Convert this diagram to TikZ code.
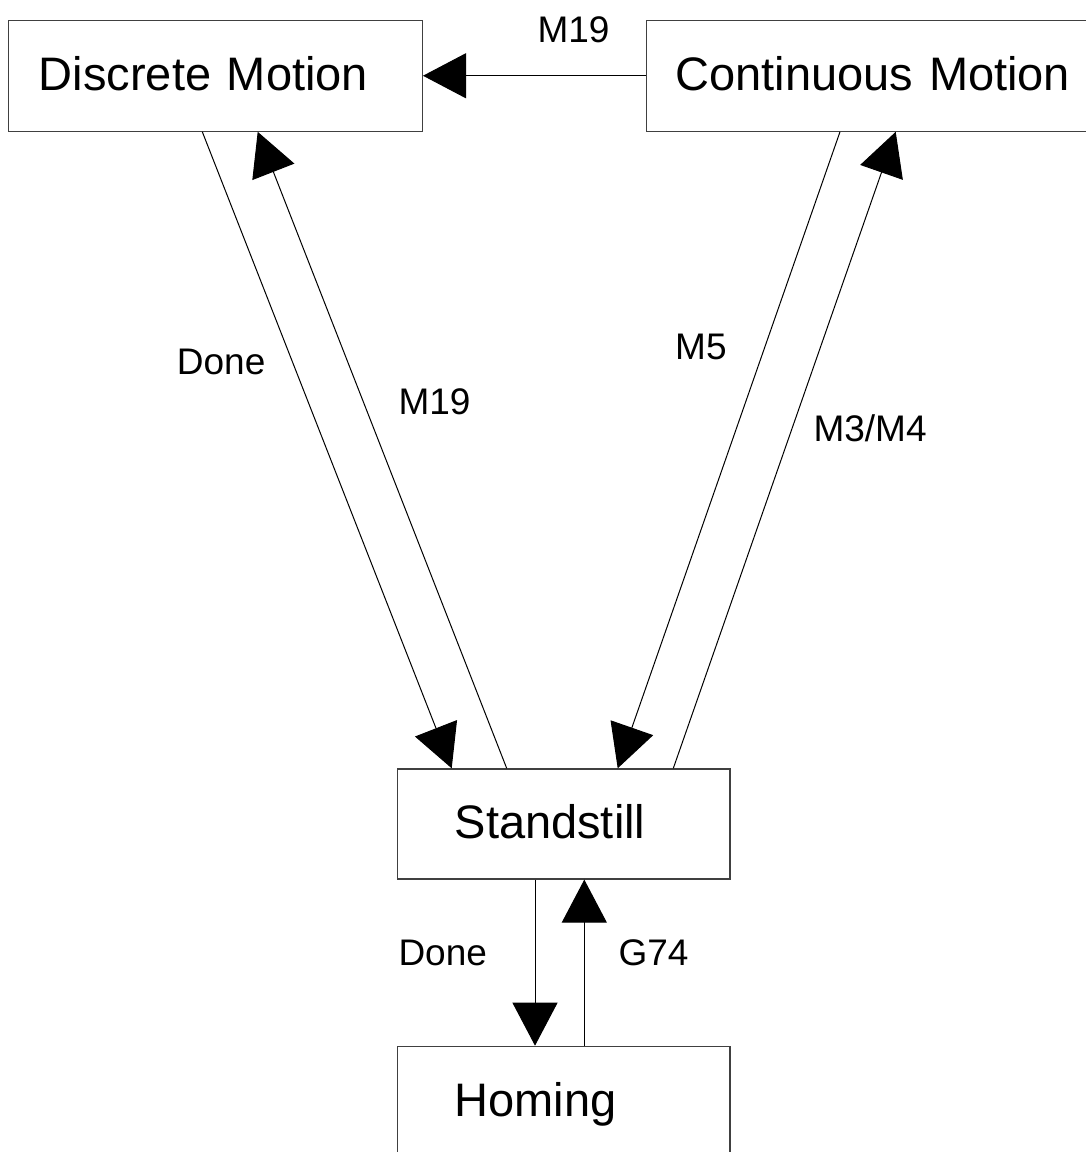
\documentclass[tikz,border=0pt]{standalone}
\usepackage{fontspec}
\setmainfont{Liberation Sans}
\usetikzlibrary{arrows.meta,calc}
\begin{document}
\begin{tikzpicture}[x=1pt,y=-1pt,
  statebox/.style={draw=black!75, line width=1.3pt, anchor=north west, align=left,
    font=\fontsize{47pt}{56pt}\selectfont, text height=33pt, text depth=3pt, inner ysep=0pt},
  lbl/.style={anchor=base west, inner sep=0pt, font=\fontsize{37pt}{44pt}\selectfont},
  arr/.style={line width=1pt, -{Triangle[length=43pt,width=45pt]}}]
\useasboundingbox (0,0) rectangle (1086,1152);
\clip (0,0) rectangle (1086,1152);
% states
\node[statebox, minimum height=110.8pt, text width=352.8pt, inner xsep=30.6pt] (d) at (7.7,19.7) {Discrete Motion};
\node[statebox, minimum height=110.8pt, text width=430pt, inner xsep=29pt] (c) at (646,19.7) {Continuous Motion};
\node[statebox, minimum height=110pt, text width=218pt, inner xsep=57.3pt] (s) at (396.7,768.3) {Standstill};
\node[statebox, minimum height=110pt, text width=218pt, inner xsep=57.3pt] (h) at (396.7,1045.7) {Homing};
% transitions
\draw[arr] (c.west) -- (d.east);
\draw[arr] ($(d.south west)+(194.6,0)$) -- ($(s.north west)+(55,0)$);
\draw[arr] ($(s.north west)+(110,0)$) -- ($(d.south west)+(250,0)$);
\draw[arr] ($(c.south west)+(194,0)$) -- ($(s.north west)+(221,0)$);
\draw[arr] ($(s.north west)+(276.6,0)$) -- ($(c.south west)+(249.7,0)$);
\draw[arr] ($(s.south west)+(138.3,0)$) -- ($(h.north west)+(138.3,0)$);
\draw[arr] ($(h.north west)+(187.6,0)$) -- ($(s.south west)+(187.6,0)$);
% labels
\node[lbl] (l1) at (537.3,42.3) {M19};
\node[lbl] (l2) at (176.7,374.3) {Done};
\node[lbl] (l3) at (398.3,414) {M19};
\node[lbl] (l4) at (675,359) {M5};
\node[lbl] (l5) at (813.3,441.7) {M3/M4};
\node[lbl] (l6) at (398.3,965) {Done};
\node[lbl] (l7) at (618.3,965) {G74};
\end{tikzpicture}
\end{document}
